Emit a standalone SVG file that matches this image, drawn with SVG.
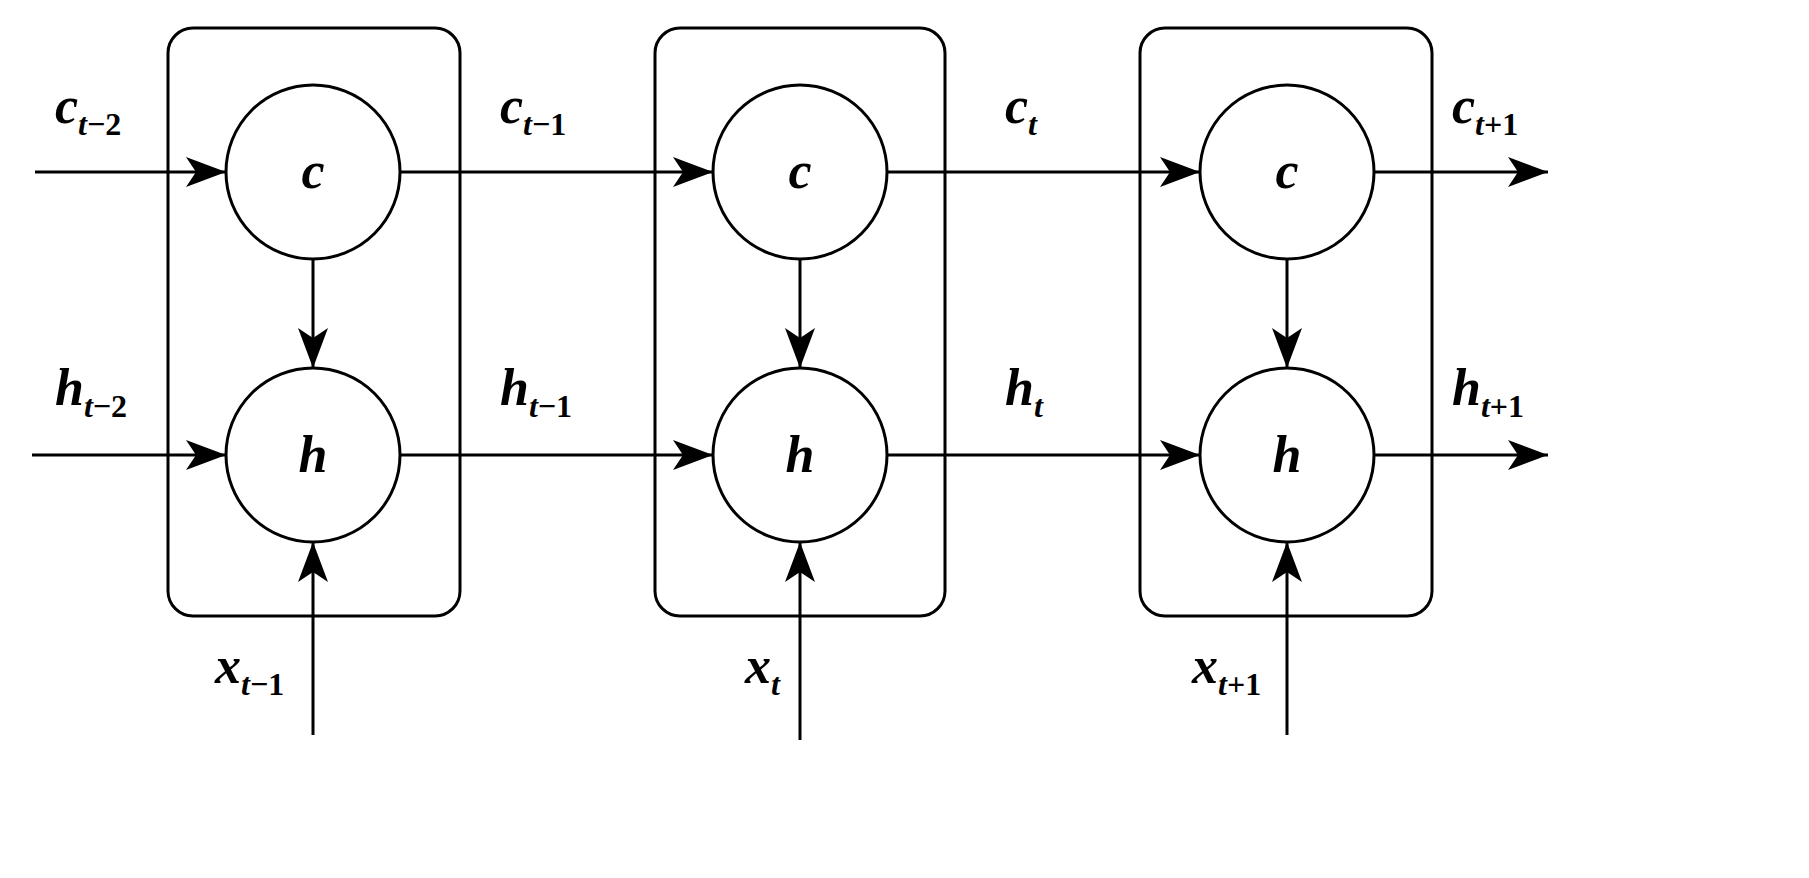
<svg xmlns="http://www.w3.org/2000/svg" width="1809" height="878" viewBox="0 0 1809 878">
<style>
.box{fill:none;stroke:#000;stroke-width:3}
.n{fill:#fff;stroke:#000;stroke-width:3}
.e{stroke:#000;stroke-width:3;fill:none;marker-end:url(#a)}
text{font-family:"Liberation Serif",serif;font-weight:bold;font-style:italic;font-size:52px}
.s{font-size:32px;font-style:normal}
.si{font-size:32px}
.m{text-anchor:middle}
</style>
<defs><marker id="a" markerWidth="40" markerHeight="30" refX="40" refY="15" orient="auto" markerUnits="userSpaceOnUse"><path d="M0,0 L40,15 L0,30 L10,15 Z" fill="#000"/></marker></defs>
<rect fill="#fff" width="1809" height="878"/>
<g id="cell1"><rect class="box" x="168" y="28" width="292" height="588" rx="25"/></g>
<g id="cell2"><rect class="box" x="655" y="28" width="290" height="588" rx="25"/></g>
<g id="cell3"><rect class="box" x="1140" y="28" width="292" height="588" rx="25"/></g>
<g id="connectors">
<line class="e" x1="35" y1="172" x2="226" y2="172"/>
<line class="e" x1="400" y1="172" x2="713" y2="172"/>
<line class="e" x1="887" y1="172" x2="1200" y2="172"/>
<line class="e" x1="1374" y1="172" x2="1548" y2="172"/>
<line class="e" x1="32" y1="455" x2="226" y2="455"/>
<line class="e" x1="400" y1="455" x2="713" y2="455"/>
<line class="e" x1="887" y1="455" x2="1200" y2="455"/>
<line class="e" x1="1374" y1="455" x2="1548" y2="455"/>
<line class="e" x1="313" y1="259" x2="313" y2="368"/>
<line class="e" x1="800" y1="259" x2="800" y2="368"/>
<line class="e" x1="1287" y1="259" x2="1287" y2="368"/>
<line class="e" x1="313" y1="735" x2="313" y2="542"/>
<line class="e" x1="800" y1="740" x2="800" y2="542"/>
<line class="e" x1="1287" y1="735" x2="1287" y2="542"/>
</g>
<g id="c1"><circle class="n" cx="313" cy="172" r="87"/><text class="m" x="313" y="188">c</text></g>
<g id="h1"><circle class="n" cx="313" cy="455" r="87"/><text class="m" x="313" y="472">h</text></g>
<g id="c2"><circle class="n" cx="800" cy="172" r="87"/><text class="m" x="800" y="188">c</text></g>
<g id="h2"><circle class="n" cx="800" cy="455" r="87"/><text class="m" x="800" y="472">h</text></g>
<g id="c3"><circle class="n" cx="1287" cy="172" r="87"/><text class="m" x="1287" y="188">c</text></g>
<g id="h3"><circle class="n" cx="1287" cy="455" r="87"/><text class="m" x="1287" y="472">h</text></g>
<g id="labels">
<text x="55" y="123">c<tspan class="si" dy="12">t</tspan><tspan class="s">−2</tspan></text>
<text x="500" y="123">c<tspan class="si" dy="12">t</tspan><tspan class="s">−1</tspan></text>
<text x="1005" y="123">c<tspan class="si" dy="12">t</tspan></text>
<text x="1452" y="123">c<tspan class="si" dy="12">t</tspan><tspan class="s">+1</tspan></text>
<text x="55" y="405">h<tspan class="si" dy="12">t</tspan><tspan class="s">−2</tspan></text>
<text x="500" y="405">h<tspan class="si" dy="12">t</tspan><tspan class="s">−1</tspan></text>
<text x="1005" y="405">h<tspan class="si" dy="12">t</tspan></text>
<text x="1452" y="405">h<tspan class="si" dy="12">t</tspan><tspan class="s">+1</tspan></text>
<text x="215" y="683">x<tspan class="si" dy="12">t</tspan><tspan class="s">−1</tspan></text>
<text x="745" y="683">x<tspan class="si" dy="12">t</tspan></text>
<text x="1192" y="683">x<tspan class="si" dy="12">t</tspan><tspan class="s">+1</tspan></text>
</g>
</svg>
